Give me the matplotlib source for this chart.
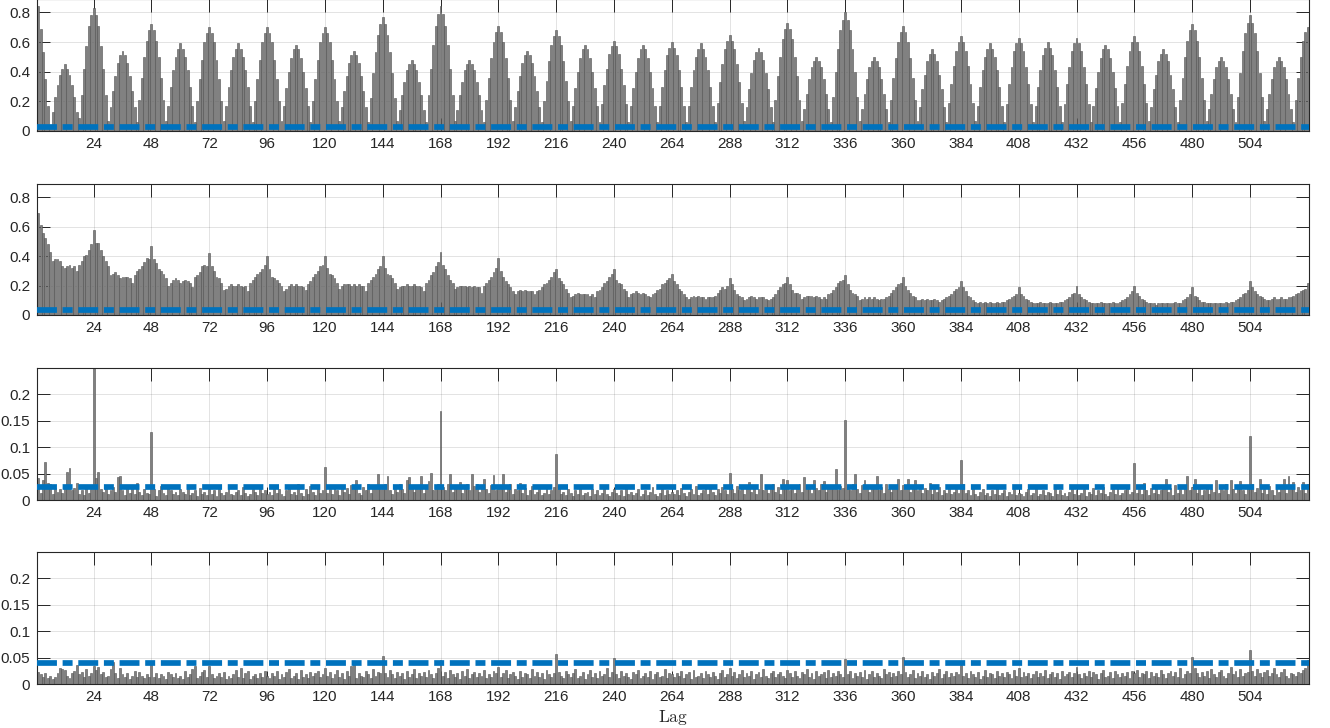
import numpy as np
import matplotlib.pyplot as plt

plt.rcParams['font.family'] = ['Liberation Sans', 'DejaVu Sans']
plt.rcParams['mathtext.fontset'] = 'cm'

# lags shown on every panel
n_lags = 528
lags = np.arange(1, n_lags + 1)
xtick_vals = np.arange(24, 505, 24)

# panel 1: raw series ACF (hundredths), one row per 12 lags
acf_raw = [
    84, 69, 53, 35, 17, 4, 13, 23, 31, 38, 42, 45,
    42, 38, 31, 23, 13, 9, 24, 42, 57, 71, 78, 83,
    78, 71, 57, 42, 24, 7, 16, 27, 37, 46, 51, 54,
    51, 46, 37, 27, 16, 6, 21, 36, 50, 61, 68, 72,
    68, 61, 50, 36, 21, 7, 17, 30, 41, 50, 55, 59,
    55, 50, 41, 30, 17, 6, 20, 35, 48, 60, 66, 70,
    66, 60, 48, 35, 20, 7, 17, 30, 41, 50, 55, 59,
    55, 50, 41, 30, 17, 6, 20, 35, 48, 60, 66, 70,
    66, 60, 48, 35, 20, 7, 17, 29, 40, 49, 55, 58,
    55, 49, 40, 29, 17, 6, 20, 35, 48, 60, 66, 70,
    66, 60, 48, 35, 20, 7, 16, 27, 37, 46, 51, 54,
    51, 46, 37, 27, 16, 6, 22, 39, 53, 65, 72, 77,
    72, 65, 53, 39, 22, 7, 14, 24, 33, 41, 45, 48,
    45, 41, 33, 24, 14, 6, 24, 42, 58, 71, 79, 84,
    79, 71, 58, 42, 24, 7, 14, 24, 33, 41, 45, 48,
    45, 41, 33, 24, 14, 6, 21, 36, 49, 60, 67, 71,
    67, 60, 49, 36, 21, 7, 16, 27, 37, 46, 51, 54,
    51, 46, 37, 27, 16, 6, 20, 34, 47, 58, 64, 68,
    64, 58, 47, 34, 20, 7, 17, 29, 40, 49, 55, 58,
    55, 49, 40, 29, 17, 6, 18, 31, 42, 52, 57, 61,
    57, 52, 42, 31, 18, 6, 17, 29, 40, 49, 55, 58,
    55, 49, 40, 29, 17, 6, 17, 30, 41, 51, 56, 60,
    56, 51, 41, 30, 17, 6, 17, 30, 41, 50, 55, 59,
    55, 50, 41, 30, 17, 6, 19, 33, 45, 55, 61, 65,
    61, 55, 45, 33, 19, 7, 16, 28, 39, 48, 53, 56,
    53, 48, 39, 28, 16, 6, 21, 37, 50, 62, 69, 73,
    69, 62, 50, 37, 21, 7, 15, 25, 35, 43, 47, 50,
    47, 43, 35, 25, 15, 6, 23, 40, 55, 68, 75, 80,
    75, 68, 55, 40, 23, 7, 15, 25, 35, 43, 47, 50,
    47, 43, 35, 25, 15, 6, 21, 36, 49, 60, 67, 71,
    67, 60, 49, 36, 21, 7, 16, 28, 38, 47, 52, 55,
    52, 47, 38, 28, 16, 6, 19, 32, 44, 54, 60, 64,
    60, 54, 44, 32, 19, 7, 17, 30, 41, 50, 55, 59,
    55, 50, 41, 30, 17, 6, 18, 32, 43, 54, 59, 63,
    59, 54, 43, 32, 18, 6, 17, 30, 41, 51, 56, 60,
    56, 51, 41, 30, 17, 6, 18, 32, 43, 54, 59, 63,
    59, 54, 43, 32, 18, 6, 17, 29, 40, 49, 55, 58,
    55, 49, 40, 29, 17, 6, 19, 32, 44, 54, 60, 64,
    60, 54, 44, 32, 19, 7, 16, 28, 38, 47, 52, 55,
    52, 47, 38, 28, 16, 6, 21, 36, 50, 61, 68, 72,
    68, 61, 50, 36, 21, 7, 15, 25, 35, 43, 47, 50,
    47, 43, 35, 25, 15, 6, 23, 39, 54, 66, 73, 78,
    73, 66, 54, 39, 23, 7, 15, 25, 35, 43, 47, 50,
    47, 43, 35, 25, 15, 6, 21, 36, 50, 61, 67, 70,
]

# panel 2: after first differencing (hundredths), one row per 24 lags
acf_diff1 = [
    69, 61, 56, 52, 48, 43, 37, 38, 38, 37, 33, 32, 33, 34, 32, 33, 30, 34, 37, 40, 41, 44, 48, 58,
    49, 49, 44, 40, 37, 33, 27, 28, 29, 27, 25, 26, 26, 26, 25, 22, 27, 30, 31, 33, 36, 39, 38, 47,
    38, 35, 31, 30, 28, 25, 20, 22, 24, 25, 24, 22, 23, 24, 23, 22, 19, 26, 27, 29, 33, 34, 33, 42,
    33, 30, 26, 25, 22, 17, 18, 20, 21, 20, 20, 21, 20, 19, 20, 16, 22, 24, 26, 28, 29, 31, 34, 40,
    31, 26, 25, 24, 22, 20, 16, 18, 20, 21, 20, 21, 20, 20, 19, 17, 21, 23, 26, 28, 30, 33, 34, 40,
    32, 28, 27, 25, 22, 18, 20, 21, 21, 21, 20, 21, 20, 21, 20, 20, 16, 22, 24, 26, 28, 31, 33, 40,
    32, 28, 27, 25, 22, 18, 19, 20, 20, 21, 20, 20, 21, 20, 20, 19, 16, 22, 24, 27, 29, 33, 36, 43,
    34, 31, 27, 24, 22, 18, 19, 20, 20, 20, 19, 20, 19, 20, 19, 19, 15, 20, 22, 24, 26, 29, 32, 39,
    30, 26, 23, 21, 19, 16, 14, 16, 17, 16, 17, 16, 16, 16, 14, 16, 17, 19, 21, 22, 24, 26, 29, 31,
    25, 23, 21, 18, 15, 12, 13, 14, 15, 14, 14, 14, 14, 13, 14, 12, 16, 17, 19, 22, 23, 26, 28, 31,
    24, 22, 21, 18, 16, 12, 14, 15, 16, 15, 14, 15, 14, 13, 12, 14, 15, 17, 18, 21, 22, 24, 25, 28,
    23, 21, 18, 16, 14, 12, 11, 12, 13, 12, 13, 12, 12, 11, 12, 12, 12, 13, 15, 17, 19, 18, 20, 25,
    21, 17, 14, 13, 12, 10, 11, 12, 13, 12, 11, 12, 12, 12, 11, 10, 11, 12, 14, 17, 19, 21, 22, 26,
    21, 17, 15, 15, 14, 11, 12, 13, 13, 13, 12, 13, 12, 11, 12, 11, 14, 15, 17, 19, 22, 23, 24, 27,
    21, 17, 15, 14, 13, 10, 11, 12, 11, 12, 11, 12, 11, 10, 11, 11, 12, 13, 15, 17, 19, 21, 22, 26,
    20, 17, 15, 13, 12, 10, 10, 11, 10, 11, 10, 10, 11, 10, 9, 10, 11, 12, 13, 14, 16, 18, 19, 23,
    19, 16, 13, 12, 10, 9, 8, 9, 8, 9, 8, 9, 8, 8, 9, 8, 9, 9, 10, 11, 12, 13, 14, 19,
    14, 13, 11, 10, 9, 8, 8, 8, 9, 8, 8, 8, 9, 8, 8, 8, 9, 9, 10, 11, 12, 14, 15, 20,
    14, 12, 11, 10, 9, 8, 8, 8, 8, 9, 8, 8, 8, 8, 9, 8, 8, 9, 10, 11, 12, 14, 16, 20,
    15, 13, 11, 10, 9, 8, 8, 8, 7, 8, 8, 8, 8, 8, 8, 8, 9, 8, 8, 10, 11, 12, 14, 19,
    13, 12, 10, 9, 9, 8, 8, 8, 8, 8, 8, 8, 8, 9, 8, 9, 9, 10, 11, 12, 14, 15, 17, 23,
    19, 16, 14, 13, 12, 11, 10, 10, 11, 12, 11, 11, 12, 11, 11, 12, 12, 13, 14, 15, 16, 17, 18, 22,
]

# panel 3: after seasonal differencing (thousandths)
acf_diff2 = [
    41, 14, 37, 72, 32, 30, 12, 22, 16, 20, 14, 25, 53, 61, 18, 22, 33, 12, 18, 10, 25, 14, 20, 300,
    41, 53, 20, 16, 22, 12, 18, 25, 15, 44, 46, 18, 10, 22, 14, 26, 12, 33, 16, 10, 20, 13, 12, 128,
    20, 8, 18, 26, 14, 10, 22, 18, 12, 15, 9, 20, 16, 12, 24, 10, 14, 18, 8, 22, 12, 16, 10, 20,
    12, 18, 8, 20, 14, 10, 16, 22, 12, 9, 15, 18, 10, 24, 14, 8, 12, 20, 16, 10, 22, 14, 18, 12,
    16, 10, 22, 14, 20, 12, 8, 18, 24, 12, 16, 10, 30, 14, 8, 20, 12, 26, 16, 10, 22, 14, 18, 63,
    14, 20, 12, 26, 18, 10, 24, 16, 22, 12, 28, 20, 38, 14, 10, 24, 18, 30, 14, 22, 26, 50, 20, 28,
    30, 46, 18, 12, 24, 16, 30, 20, 14, 38, 43, 22, 16, 28, 20, 45, 14, 26, 36, 52, 18, 24, 30, 169,
    24, 18, 30, 50, 16, 26, 20, 34, 14, 22, 30, 18, 50, 26, 30, 16, 24, 40, 20, 14, 28, 48, 18, 26,
    20, 50, 16, 24, 30, 12, 20, 18, 32, 14, 22, 10, 18, 26, 12, 16, 20, 10, 14, 22, 12, 18, 24, 88,
    28, 12, 16, 10, 20, 14, 8, 18, 12, 22, 10, 14, 16, 8, 20, 12, 18, 10, 14, 22, 12, 8, 16, 20,
    14, 10, 18, 8, 22, 12, 16, 10, 14, 20, 8, 12, 18, 10, 16, 24, 12, 8, 14, 20, 10, 18, 12, 16,
    12, 18, 10, 22, 14, 8, 16, 20, 12, 26, 10, 14, 18, 22, 12, 28, 16, 10, 20, 14, 24, 18, 12, 51,
    20, 14, 26, 18, 22, 12, 28, 35, 16, 24, 12, 20, 50, 18, 26, 14, 22, 30, 16, 24, 12, 40, 20, 38,
    18, 28, 14, 22, 30, 16, 43, 20, 26, 14, 38, 22, 18, 30, 36, 16, 24, 28, 20, 59, 18, 26, 22, 151,
    26, 18, 30, 50, 20, 14, 28, 38, 22, 16, 26, 20, 45, 18, 24, 14, 30, 20, 16, 26, 22, 40, 18, 28,
    20, 40, 16, 24, 38, 18, 26, 14, 22, 18, 33, 12, 20, 16, 24, 10, 18, 14, 22, 12, 16, 20, 14, 75,
    30, 14, 18, 10, 22, 12, 8, 16, 20, 10, 14, 8, 18, 12, 22, 10, 14, 18, 8, 16, 12, 20, 10, 14,
    12, 8, 16, 20, 10, 14, 22, 8, 12, 18, 10, 16, 14, 8, 20, 12, 18, 10, 14, 8, 16, 22, 12, 18,
    10, 14, 20, 8, 16, 12, 22, 10, 18, 14, 24, 12, 8, 16, 20, 12, 26, 10, 14, 18, 22, 12, 16, 70,
    14, 20, 12, 33, 18, 10, 22, 14, 26, 12, 18, 24, 40, 16, 22, 10, 28, 14, 20, 12, 26, 45, 18, 24,
    40, 14, 22, 10, 18, 26, 12, 20, 16, 38, 14, 24, 18, 30, 12, 37, 20, 14, 26, 36, 18, 12, 22, 122,
    30, 16, 22, 40, 14, 20, 12, 26, 18, 10, 24, 16, 22, 40, 14, 46, 20, 35, 16, 24, 18, 35, 14, 30,
]

# panel 4: residuals (thousandths)
acf_resid = [
    22, 18, 14, 20, 12, 16, 10, 14, 20, 30, 28, 26, 16, 12, 20, 24, 36, 18, 22, 14, 28, 16, 20, 35,
    26, 32, 18, 22, 14, 16, 28, 42, 20, 12, 30, 18, 14, 20, 10, 16, 24, 14, 22, 16, 12, 18, 14, 38,
    14, 20, 12, 18, 16, 10, 22, 18, 14, 20, 12, 16, 10, 24, 14, 18, 28, 34, 12, 16, 22, 26, 14, 35,
    18, 12, 16, 20, 14, 22, 10, 16, 12, 18, 26, 14, 30, 12, 20, 24, 10, 16, 18, 12, 20, 14, 24, 16,
    12, 20, 16, 24, 10, 18, 14, 22, 28, 12, 16, 20, 10, 26, 14, 18, 12, 22, 16, 20, 24, 14, 18, 30,
    16, 22, 12, 18, 26, 14, 20, 10, 24, 16, 34, 38, 12, 20, 16, 14, 24, 18, 12, 28, 16, 22, 20, 53,
    20, 14, 26, 18, 12, 22, 16, 20, 10, 24, 14, 18, 28, 12, 20, 16, 22, 14, 26, 18, 12, 20, 30, 45,
    16, 22, 12, 26, 18, 14, 20, 10, 24, 16, 28, 12, 18, 22, 14, 20, 16, 26, 12, 18, 14, 24, 20, 32,
    14, 20, 26, 12, 18, 22, 16, 10, 24, 14, 20, 18, 12, 28, 16, 22, 14, 20, 10, 26, 18, 14, 20, 56,
    22, 16, 12, 24, 18, 14, 20, 28, 12, 16, 22, 10, 18, 26, 14, 20, 12, 24, 16, 18, 30, 14, 22, 50,
    18, 12, 24, 16, 20, 14, 10, 22, 18, 26, 12, 16, 20, 14, 24, 10, 18, 22, 14, 16, 28, 12, 20, 18,
    14, 20, 16, 24, 12, 18, 22, 10, 26, 14, 16, 20, 12, 24, 18, 14, 22, 16, 10, 20, 26, 14, 18, 30,
    16, 22, 12, 18, 26, 14, 20, 16, 24, 10, 18, 22, 14, 28, 16, 12, 20, 24, 14, 18, 22, 16, 12, 26,
    20, 14, 24, 16, 12, 22, 18, 28, 14, 20, 10, 24, 16, 18, 22, 12, 26, 14, 20, 16, 24, 18, 14, 48,
    18, 24, 12, 20, 16, 22, 14, 26, 10, 18, 24, 14, 20, 16, 12, 28, 18, 22, 14, 20, 16, 24, 18, 52,
    22, 14, 18, 26, 12, 20, 16, 24, 14, 18, 10, 22, 16, 20, 28, 12, 18, 24, 14, 20, 16, 22, 18, 36,
    16, 20, 12, 24, 18, 14, 22, 10, 16, 26, 14, 20, 18, 12, 24, 16, 20, 14, 22, 18, 12, 26, 16, 30,
    14, 22, 16, 20, 12, 18, 24, 14, 20, 16, 26, 12, 18, 22, 14, 20, 10, 24, 16, 18, 22, 14, 20, 32,
    18, 12, 20, 16, 24, 14, 22, 18, 10, 20, 26, 14, 16, 22, 12, 24, 18, 14, 20, 16, 22, 12, 24, 20,
    26, 14, 20, 18, 24, 12, 22, 16, 20, 14, 26, 18, 12, 20, 24, 16, 22, 14, 30, 12, 18, 24, 20, 52,
    30, 20, 14, 22, 16, 24, 12, 28, 18, 14, 22, 26, 16, 12, 20, 32, 18, 24, 14, 28, 16, 20, 22, 65,
    24, 16, 28, 20, 14, 22, 26, 16, 20, 30, 18, 14, 22, 28, 16, 12, 20, 18, 16, 22, 20, 26, 30, 46,
]

series = [np.array(acf_raw) / 100, np.array(acf_diff1) / 100,
          np.array(acf_diff2) / 1000, np.array(acf_resid) / 1000]
bounds = [0.027, 0.035, 0.025, 0.04]
ytops = [0.89, 0.89, 0.25, 0.25]
yticks_big = [0, 0.2, 0.4, 0.6, 0.8]
ylabels_big = ['0', '0.2', '0.4', '0.6', '0.8']
yticks_small = [0, 0.05, 0.1, 0.15, 0.2]
ylabels_small = ['0', '0.05', '0.1', '0.15', '0.2']

for s in series:
    assert len(s) == n_lags, len(s)

fig = plt.figure(figsize=(13.3, 7.28), dpi=100)

# axes positions in pixels (top, bottom) from the reference
panel_px = [(-1, 131), (184, 315), (368, 500), (552, 684)]
W, H = 1330, 728
axes = []
for i, (top, bot) in enumerate(panel_px):
    ax = fig.add_axes([37 / W, 1 - bot / H, 1272 / W, (bot - top) / H])
    axes.append(ax)

    ax.bar(lags, series[i], width=0.8, color='#808080', edgecolor='#505050',
           linewidth=0.4, zorder=2)
    ax.plot([0.5, n_lags + 0.5], [bounds[i], bounds[i]], color='#0072BD',
            lw=4.1, linestyle=(0, (3.5, 1, 1.75, 1)), dash_capstyle='butt',
            zorder=3)

    ax.set_xlim(0.5, n_lags + 0.5)
    ax.set_ylim(0, ytops[i])
    ax.set_xticks(xtick_vals)
    ax.set_xticklabels([str(v) for v in xtick_vals])
    if i < 2:
        ax.set_yticks(yticks_big)
        ax.set_yticklabels(ylabels_big)
    else:
        ax.set_yticks(yticks_small)
        ax.set_yticklabels(ylabels_small)

    ax.grid(True, color='#262626', alpha=0.15, linewidth=0.6)
    ax.set_axisbelow(True)
    ax.tick_params(direction='in', length=9.2, width=0.7, colors='#262626',
                   labelsize=11, top=True, right=True, pad=4)
    ax.tick_params(axis='y', pad=5)
    for sp in ax.spines.values():
        sp.set_color('#262626')
        sp.set_linewidth(0.8)

axes[-1].set_xlabel(r'$\mathrm{Lag}$', fontsize=12.5, labelpad=3, color='#262626')

fig.savefig('out.png', dpi=100)
